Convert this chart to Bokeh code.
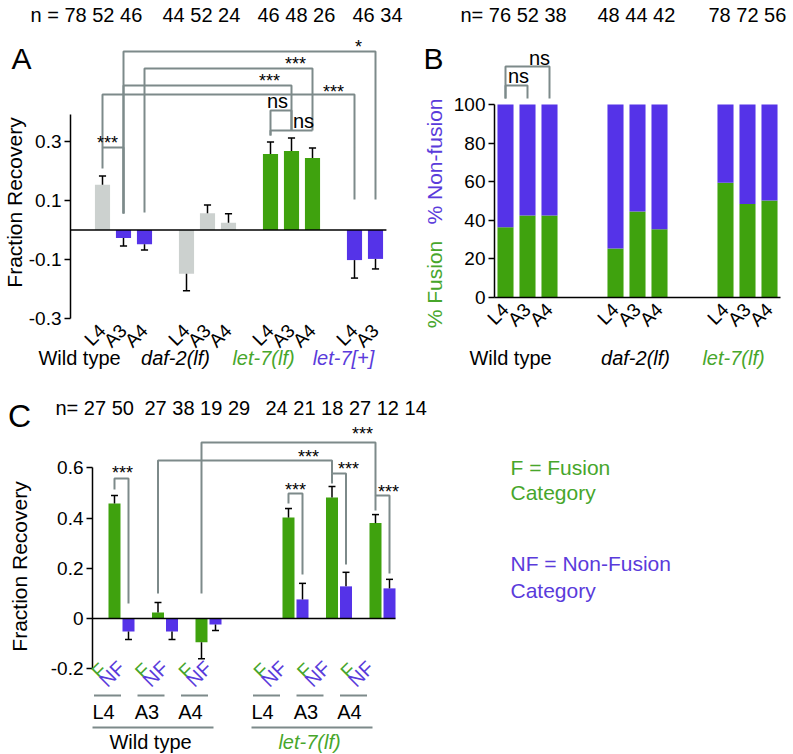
import math
from bokeh.plotting import figure
from bokeh.models import Range1d, FixedTicker, Label
from bokeh.layouts import column, row
from bokeh.embed import file_html
from bokeh.resources import INLINE

# ======================= DATA =======================
# Panel A: fraction recovery
groups_A = ["Wild type", "daf-2(lf)", "let-7(lf)", "let-7[+]"]
stages_A = [["L4", "A3", "A4"], ["L4", "A3", "A4"], ["L4", "A3", "A4"], ["L4", "A3"]]
recovery_A = [[0.153, -0.027, -0.048], [-0.148, 0.057, 0.025], [0.258, 0.268, 0.244], [-0.102, -0.098]]
sem_A = [[0.030, 0.027, 0.020], [0.058, 0.028, 0.030], [0.040, 0.044, 0.034], [0.061, 0.034]]
n_A = [[78, 52, 46], [44, 52, 24], [46, 48, 26], [46, 34]]
sig_pairs_A = [(1, 10), (2, 8), (1, 7), (0, 9), (0, 1), (6, 7), (6, 8)]
sig_labels_A = ["*", "***", "***", "***", "***", "ns", "ns"]
yticks_A = [-0.3, -0.1, 0.1, 0.3]
ytick_labels_A = ["-0.3", "-0.1", "0.1", "0.3"]

# Panel B: % fusion / % non-fusion
groups_B = ["Wild type", "daf-2(lf)", "let-7(lf)"]
stages_B = ["L4", "A3", "A4"]
fusion_B = [[36.4, 42.5, 42.5], [25.4, 44.6, 35.4], [59.5, 48.5, 50.3]]
n_B = [[76, 52, 38], [48, 44, 42], [78, 72, 56]]
sig_pairs_B = [(0, 1), (0, 2)]
sig_labels_B = ["ns", "ns"]
yticks_B = [0, 20, 40, 60, 80, 100]
ytick_labels_B = ["0", "20", "40", "60", "80", "100"]

# Panel C: fraction recovery by category
groups_C = ["Wild type", "let-7(lf)"]
stages_C = ["L4", "A3", "A4"]
types_C = ["F", "NF"]
fusion_C = [[0.458, 0.024, -0.095], [0.402, 0.482, 0.380]]
fusion_sem_C = [[0.032, 0.040, 0.065], [0.036, 0.044, 0.034]]
nonfusion_C = [[-0.052, -0.052, -0.024], [0.076, 0.128, 0.120]]
nonfusion_sem_C = [[0.032, 0.032, 0.024], [0.064, 0.056, 0.036]]
n_C = [[[27, 50], [27, 38], [19, 29]], [[24, 21], [18, 27], [12, 14]]]
sig_pairs_C = [(("F", 0), ("NF", 0)), (("F", 3), ("NF", 3)), (("F", 4), ("NF", 4)),
               (("F", 5), ("NF", 5)), (("F", 1), ("F", 4)), (("F", 2), ("F", 5))]
sig_labels_C = ["***"] * 6
yticks_C = [-0.2, 0, 0.2, 0.4, 0.6]
ytick_labels_C = ["-0.2", "0", "0.2", "0.4", "0.6"]
legend_C = [("F = Fusion", "Category"), ("NF = Non-Fusion", "Category")]

# ======================= STYLE =======================
FONT = "Liberation Sans"
GREEN = "#3fa20e"
PURPLE = "#5533e8"
GRAY = "#ccd1cf"
LINE_GRAY = "#7d8a8a"
TEXT_GREEN = "#47a62b"
TEXT_PURPLE = "#5a3bdb"
colors_A = [[GRAY, PURPLE, PURPLE], [GRAY, GRAY, GRAY], [GREEN, GREEN, GREEN], [PURPLE, PURPLE]]
group_text_A = [("black", "normal"), ("black", "italic"), (TEXT_GREEN, "italic"), (TEXT_PURPLE, "italic")]
group_text_B = [("black", "normal"), ("black", "italic"), (TEXT_GREEN, "italic")]
group_text_C = [("black", "normal"), (TEXT_GREEN, "italic")]


class Map:
    """A figure placed on the page; maps page pixels to the figure's data units."""
    def __init__(s, left, top, w, h, xref_px, xref_val, xppu, yref_py, yref_val, yppu):
        s.left, s.top, s.w, s.h = left, top, w, h
        s.xref_px, s.xref_val, s.xppu = xref_px, xref_val, xppu
        s.yref_py, s.yref_val, s.yppu = yref_py, yref_val, yppu

    def X(s, px):
        return s.xref_val + (px - s.xref_px) / s.xppu

    def Y(s, py):
        return s.yref_val + (s.yref_py - py) / s.yppu

    def dx(s, px):
        return px / s.xppu


def make_fig(m, x_axis=True):
    p = figure(width=m.w, height=m.h,
               x_range=Range1d(m.X(m.left), m.X(m.left + m.w)),
               y_range=Range1d(m.Y(m.top + m.h), m.Y(m.top)),
               output_backend="svg", toolbar_location=None,
               x_axis_location="below" if x_axis else None,
               min_border=0, min_border_left=0, min_border_right=0,
               min_border_top=0, min_border_bottom=0)
    p.grid.visible = False
    p.outline_line_color = None
    return p


def style_yaxis(ax, ticks, labels, bounds, loc):
    ax.fixed_location = loc
    ax.ticker = FixedTicker(ticks=ticks)
    ax.major_label_overrides = dict(zip(ticks, labels))
    ax.bounds = bounds
    ax.axis_line_color = "black"
    ax.axis_line_width = 1.5
    ax.major_tick_line_width = 1.5
    ax.major_tick_out = 6
    ax.major_tick_in = 0
    ax.minor_tick_out = 0
    ax.minor_tick_in = 0
    ax.major_label_text_font = FONT
    ax.major_label_text_font_size = "19px"
    ax.major_label_text_color = "black"
    ax.major_label_standoff = 3


def style_xaxis(ax, ticks, labels, line, loc, bounds):
    ax.fixed_location = loc
    ax.bounds = bounds
    ax.ticker = FixedTicker(ticks=ticks)
    ax.major_label_overrides = dict(zip(ticks, labels))
    ax.major_label_orientation = math.pi / 4
    ax.major_tick_line_color = None
    ax.minor_tick_line_color = None
    ax.axis_line_color = "black" if line else None
    ax.axis_line_width = 1.5
    ax.major_label_text_font = FONT
    ax.major_label_text_font_size = "19px"
    ax.major_label_text_color = "black"
    ax.major_label_standoff = 3


def add_text(p, x, y, text, size, color="black", style="normal", align="left",
             baseline="middle", angle=0.0):
    p.add_layout(Label(x=x, y=y, text=text, text_font=FONT, text_font_size=size,
                       text_color=color, text_font_style=style, text_align=align,
                       text_baseline=baseline, angle=angle))


def error_bars(p, xs, vals, errs, cap_half):
    x0, y0, x1, y1 = [], [], [], []
    for x, v, e in zip(xs, vals, errs):
        tip = v + e if v >= 0 else v - e
        x0 += [x, x - cap_half]
        y0 += [v, tip]
        x1 += [x, x + cap_half]
        y1 += [tip, tip]
    p.segment(x0=x0, y0=y0, x1=x1, y1=y1, line_color="black", line_width=1.5)


def brackets(p, m, xa, xb, geom, labels, size_star="18px", size_ns="20px"):
    xs, ys = [], []
    for a, b, (top, ea, eb, lx, ly) in zip(xa, xb, geom):
        xs.append([a, a, b, b])
        ys.append([m.Y(ea), m.Y(top), m.Y(top), m.Y(eb)])
    p.multi_line(xs=xs, ys=ys, line_color=LINE_GRAY, line_width=2)
    for (top, ea, eb, lx, ly), lab in zip(geom, labels):
        if "*" in lab:
            add_text(p, m.X(lx), m.Y(ly + 4), lab, size_star, align="center")
        else:
            add_text(p, m.X(lx), m.Y(ly - 1), lab, size_ns, align="center")


# ======================= PANEL A =======================
mA = Map(0, 0, 408, 375, 102, 0.0, 21.0, 229.5, 0.0, 295.0)
pA = make_fig(mA)

posA, valA, errA, colA, labA = [], [], [], [], []
for gi, (stg, vals, errs, cols) in enumerate(zip(stages_A, recovery_A, sem_A, colors_A)):
    for si, (s, v, e, c) in enumerate(zip(stg, vals, errs, cols)):
        posA.append(gi * 4 + si)
        valA.append(v)
        errA.append(e)
        colA.append(c)
        labA.append(s)

axis_xA = mA.X(70)
pA.vbar(x=posA, bottom=0, top=valA, width=0.72, fill_color=colA, line_color=None)
error_bars(pA, posA, valA, errA, 0.17)
pA.segment(x0=[axis_xA], y0=[0], x1=[max(posA) + 0.52], y1=[0], line_color="black", line_width=1.5)

style_yaxis(pA.yaxis[0], yticks_A, ytick_labels_A, (-0.3, 0.39), axis_xA)
style_xaxis(pA.xaxis[0], posA, labA, False, -0.3, (axis_xA, max(posA) + 0.52))

geom_A = [(51, 213, 199, 358, 42), (68, 212, 130, 295, 59), (85, 213, 130, 269, 76),
          (94, 147, 199, 333, 87), (147, 168, 213, 107, 138), (110, 135, 130, 277, 101),
          (130, 135, 130, 303, 121)]
brackets(pA, mA, [posA[i] for i, j in sig_pairs_A], [posA[j] for i, j in sig_pairs_A],
         geom_A, sig_labels_A)

n_x_A = [30, 162, 257, 352]
for k, (nn, px) in enumerate(zip(n_A, n_x_A)):
    t = " ".join(str(v) for v in nn)
    add_text(pA, mA.X(px), mA.Y(14), ("n = " + t) if k == 0 else t, "20px")
add_text(pA, mA.X(21), mA.Y(58), "A", "30px", align="center")
add_text(pA, mA.X(14), mA.Y(202), "Fraction Recovery", "21px", align="center", angle=math.pi / 2)
grp_x_A = [79, 175, 263, 343]
for g, px, (c, st) in zip(groups_A, grp_x_A, group_text_A):
    add_text(pA, mA.X(px), mA.Y(357), g, "20px", color=c, style=st, align="center")

# ======================= PANEL B =======================
mB = Map(408, 0, 385, 375, 505, 0.0, 22.0, 297, 0.0, 1.93)
pB = make_fig(mB)

posB, fusB, labB = [], [], []
for gi, fus in enumerate(fusion_B):
    for si, (s, f) in enumerate(zip(stages_B, fus)):
        posB.append(gi * 5 + si)
        fusB.append(f)
        labB.append(s)
pB.vbar(x=posB, bottom=0, top=fusB, width=0.73, fill_color=GREEN, line_color=None)
pB.vbar(x=posB, bottom=fusB, top=[100] * len(posB), width=0.73, fill_color=PURPLE, line_color=None)

axis_xB = mB.X(494)
style_yaxis(pB.yaxis[0], yticks_B, ytick_labels_B, (0, 100), axis_xB)
style_xaxis(pB.xaxis[0], posB, labB, True, 0, (axis_xB, max(posB) + 0.5))

geom_B = [(85, 98, 98, 518, 76), (66, 98, 98, 539, 58)]
brackets(pB, mB, [posB[i] for i, j in sig_pairs_B], [posB[j] for i, j in sig_pairs_B],
         geom_B, sig_labels_B)

n_x_B = [460, 597, 708]
for k, (nn, px) in enumerate(zip(n_B, n_x_B)):
    t = " ".join(str(v) for v in nn)
    add_text(pB, mB.X(px), mB.Y(14), ("n= " + t) if k == 0 else t, "20px")
add_text(pB, mB.X(433), mB.Y(58), "B", "30px", align="center")
add_text(pB, mB.X(434), mB.Y(284), "% Fusion", "21px", color=TEXT_GREEN, align="center", angle=math.pi / 2)
add_text(pB, mB.X(434), mB.Y(161), "% Non-fusion", "21px", color=TEXT_PURPLE, align="center", angle=math.pi / 2)
grp_x_B = [510, 635, 733]
for g, px, (c, st) in zip(groups_B, grp_x_B, group_text_B):
    add_text(pB, mB.X(px), mB.Y(357), g, "20px", color=c, style=st, align="center")

# ======================= PANEL C =======================
mC = Map(0, 375, 793, 379, 121, 0.0, 43.5, 618, 0.0, 251.0)
pC = make_fig(mC, x_axis=False)

OFF = 0.161
pairC, xF, xNF, vF, eF, vNF, eNF = [], [], [], [], [], [], []
for gi in range(len(groups_C)):
    for si in range(len(stages_C)):
        pc = gi * 4 + si
        pairC.append(pc)
        xF.append(pc - OFF)
        xNF.append(pc + OFF)
        vF.append(fusion_C[gi][si])
        eF.append(fusion_sem_C[gi][si])
        vNF.append(nonfusion_C[gi][si])
        eNF.append(nonfusion_sem_C[gi][si])

axis_xC = mC.X(92)
pC.vbar(x=xF, bottom=0, top=vF, width=0.276, fill_color=GREEN, line_color=None)
pC.vbar(x=xNF, bottom=0, top=vNF, width=0.276, fill_color=PURPLE, line_color=None)
error_bars(pC, xF, vF, eF, 0.08)
error_bars(pC, xNF, vNF, eNF, 0.08)
pC.segment(x0=[axis_xC], y0=[0], x1=[max(xNF) + 0.138], y1=[0], line_color="black", line_width=1.5)

style_yaxis(pC.yaxis[0], yticks_C, ytick_labels_C, (-0.2, 0.6), axis_xC)


def cx(key):
    t, k = key
    return xF[k] if t == "F" else xNF[k]


geom_C = [(478, 489, 603, 122, 468), (493, 503, 574, 295, 485), (473, 483, 564, 348, 464),
          (495, 510, 573, 388, 487), (460, 593, 473, 308, 452), (442, 593, 495, 362, 429)]
brackets(pC, mC, [cx(a) for a, b in sig_pairs_C], [cx(b) for a, b in sig_pairs_C],
         geom_C, sig_labels_C)

nC_flat = [[v for pr in grp for v in pr] for grp in n_C]
add_text(pC, mC.X(55), mC.Y(407), "n= " + " ".join(str(v) for v in n_C[0][0]), "20px")
add_text(pC, mC.X(144), mC.Y(407), " ".join(str(v) for pr in n_C[0][1:] for v in pr), "20px")
add_text(pC, mC.X(265), mC.Y(407), " ".join(str(v) for v in nC_flat[1]), "20px")
add_text(pC, mC.X(19), mC.Y(415), "C", "32px", align="center")
add_text(pC, mC.X(19), mC.Y(566), "Fraction Recovery", "21px", align="center", angle=math.pi / 2)

shift_lab = [0, -12]
shift_grp = [0, -15]
for gi in range(len(groups_C)):
    for si, st in enumerate(stages_C):
        k = gi * 3 + si
        add_text(pC, xF[k] + mC.dx(-11 + shift_lab[gi]), mC.Y(666), types_C[0], "20px",
                 color=TEXT_GREEN, align="right", angle=math.pi / 4)
        add_text(pC, xNF[k] + mC.dx(-7 + shift_lab[gi]), mC.Y(664), types_C[1], "20px",
                 color=TEXT_PURPLE, align="right", angle=math.pi / 4)
        c = pairC[k] + mC.dx(-14 + shift_grp[gi])
        pC.segment(x0=[c - mC.dx(13.5)], y0=[mC.Y(695)], x1=[c + mC.dx(13.5)], y1=[mC.Y(695)],
                   line_color=LINE_GRAY, line_width=2)
        add_text(pC, pairC[k] + mC.dx(-18 + shift_grp[gi]), mC.Y(711), st, "20px", align="center")
    first, last = pairC[gi * 3], pairC[gi * 3 + 2]
    pC.segment(x0=[first + mC.dx(-29 + shift_grp[gi])], y0=[mC.Y(727)],
               x1=[last + mC.dx(5 + shift_grp[gi])], y1=[mC.Y(727)],
               line_color=LINE_GRAY, line_width=2)
    c, st = group_text_C[gi]
    add_text(pC, pairC[gi * 3 + 1] + mC.dx(-14.5 + shift_grp[gi]), mC.Y(741), groups_C[gi], "20px",
             color=c, style=st, align="center")

for (l1, l2), col, (b1, b2) in zip(legend_C, [TEXT_GREEN, TEXT_PURPLE], [(467, 492), (563, 590)]):
    add_text(pC, mC.X(510), mC.Y(b1), l1, "21px", color=col, baseline="alphabetic")
    add_text(pC, mC.X(510), mC.Y(b2), l2, "21px", color=col, baseline="alphabetic")

layout = column(row(pA, pB), pC)
open("out.html", "w").write(file_html(layout, INLINE))
